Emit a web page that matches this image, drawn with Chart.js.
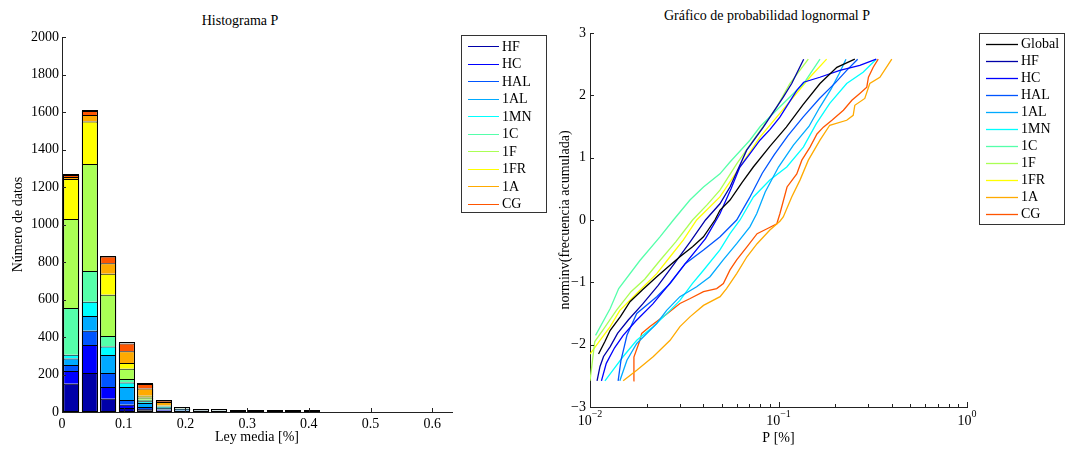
<!DOCTYPE html>
<html>
<head>
<meta charset="utf-8">
<script src="https://cdn.jsdelivr.net/npm/chart.js@4"></script>
<style>
  body { margin: 0; background: #fff; width: 1065px; height: 449px; overflow: hidden; position: relative; font-family: "Liberation Serif", serif; }
  #histo { position: absolute; left: 0; top: 0; }
  #probplot { position: absolute; left: 552px; top: 0; }
  .ttl { position: absolute; font-size: 14px; line-height: 16px; white-space: nowrap; transform: translateX(-50%); color: #000; }
</style>
</head>
<body>
<div class="ttl" style="left:240px;top:13px">Histograma P</div>
<div class="ttl" style="left:767px;top:8px">Gráfico de probabilidad lognormal P</div>
<canvas id="histo" width="552" height="449"></canvas>
<canvas id="probplot" width="513" height="449"></canvas>
<script>
// ---- histogram data (Ley media [%] bins, counts per group) ----
const groups = ['HF', 'HC', 'HAL', '1AL', '1MN', '1C', '1F', '1FR', '1A', 'CG'];
const groupColors = ['#0000a8', '#0000ff', '#0055ff', '#00aaff', '#00ffff', '#55ffaa', '#aaff55', '#ffff00', '#ffaa00', '#ff5500'];
const binCenters = [0.015, 0.045, 0.075, 0.105, 0.135, 0.165, 0.195, 0.225, 0.255, 0.285, 0.315, 0.345, 0.375, 0.405];
const cntHF  = [151, 208,  71, 21,  9,  6, 3, 2, 2, 1, 1, 1, 0, 1];
const cntHC  = [ 68, 149,  62, 18,  7,  3, 2, 1, 1, 1, 1, 0, 0, 1];
const cntHAL = [ 32,  77,  75, 25, 11,  4, 3, 2, 2, 1, 1, 1, 0, 1];
const cnt1AL = [ 35,  78,  96, 69, 21,  8, 9, 3, 2, 2, 1, 1, 0, 1];
const cnt1MN = [ 20,  76,  46, 25,  9,  6, 1, 1, 1, 1, 1, 0, 0, 0];
const cnt1C  = [249, 164,  55, 18,  9,  3, 1, 0, 0, 0, 0, 0, 0, 0];
const cnt1F  = [474, 571, 221, 55, 12,  2, 1, 1, 0, 0, 0, 0, 0, 0];
const cnt1FR = [214, 227, 112, 30,  9,  3, 0, 0, 0, 0, 0, 0, 0, 0];
const cnt1A  = [ 10,  34,  55, 63, 39, 18, 1, 1, 1, 1, 1, 1, 1, 0];
const cntCG  = [ 11,  21,  36, 42, 23,  7, 0, 0, 1, 0, 0, 0, 0, 1];
const counts = [cntHF, cntHC, cntHAL, cnt1AL, cnt1MN, cnt1C, cnt1F, cnt1FR, cnt1A, cntCG];

// ---- lognormal probability plot: [P %, norminv(frec. acumulada)] ----
const ppGlobal = [[0.0111,-2.15],[0.0120,-1.95],[0.0128,-1.77],[0.0145,-1.55],[0.0163,-1.31],[0.0190,-1.12],[0.0226,-0.91],[0.0260,-0.75],[0.0300,-0.59],[0.0350,-0.43],[0.0400,-0.27],[0.0460,0.0],[0.0490,0.16],[0.0553,0.32],[0.0640,0.60],[0.0735,0.85],[0.0900,1.18],[0.110,1.49],[0.135,1.85],[0.166,2.19],[0.204,2.45],[0.254,2.58]];
const ppHF  = [[0.0109,-2.58],[0.0113,-2.35],[0.0118,-2.19],[0.0128,-2.03],[0.0140,-1.82],[0.0160,-1.60],[0.0190,-1.35],[0.0230,-1.05],[0.0280,-0.70],[0.0340,-0.35],[0.0410,0.0],[0.0489,0.26],[0.0553,0.53],[0.0678,1.12],[0.0831,1.49],[0.106,1.97],[0.1175,2.19],[0.136,2.58]];
const ppHC  = [[0.0115,-2.58],[0.0122,-2.30],[0.0135,-2.05],[0.0150,-1.85],[0.0175,-1.62],[0.0215,-1.35],[0.0260,-1.05],[0.0320,-0.70],[0.0410,-0.30],[0.0489,0.10],[0.0560,0.50],[0.0624,0.85],[0.0700,1.05],[0.0797,1.28],[0.0900,1.45],[0.1017,1.65],[0.125,2.08],[0.136,2.21],[0.1657,2.29],[0.2116,2.40],[0.270,2.48],[0.330,2.58]];
const ppHAL = [[0.0141,-2.58],[0.0146,-2.25],[0.0152,-2.03],[0.0157,-1.85],[0.0177,-1.50],[0.0226,-1.23],[0.0266,-1.02],[0.0320,-0.70],[0.0400,-0.48],[0.0490,-0.27],[0.0600,0.0],[0.0700,0.35],[0.0820,0.75],[0.0950,1.05],[0.112,1.35],[0.135,1.65],[0.165,1.95],[0.200,2.20],[0.230,2.40],[0.263,2.58]];
const pp1AL = [[0.0144,-2.58],[0.0157,-2.25],[0.0177,-1.98],[0.0200,-1.82],[0.0226,-1.66],[0.0255,-1.45],[0.0300,-1.23],[0.0368,-1.07],[0.0433,-0.91],[0.0509,-0.64],[0.0600,-0.38],[0.0705,-0.11],[0.0766,0.10],[0.0850,0.45],[0.100,0.85],[0.120,1.20],[0.145,1.50],[0.165,1.80],[0.190,2.10],[0.210,2.35],[0.228,2.58]];
const pp1MN = [[0.0120,-2.58],[0.0133,-2.40],[0.0150,-2.19],[0.0177,-1.93],[0.0217,-1.71],[0.0266,-1.45],[0.0300,-1.29],[0.0349,-1.02],[0.0399,-0.81],[0.0489,-0.48],[0.0553,-0.22],[0.0625,0.0],[0.0736,0.37],[0.0900,0.64],[0.1106,0.85],[0.1355,1.17],[0.159,1.55],[0.187,1.87],[0.230,2.19],[0.281,2.37],[0.330,2.58]];
const pp1C  = [[0.0107,-1.85],[0.0128,-1.42],[0.0142,-1.10],[0.0184,-0.65],[0.0235,-0.27],[0.0277,0.0],[0.0339,0.32],[0.0400,0.53],[0.0489,0.74],[0.0553,0.93],[0.0705,1.28],[0.0800,1.50],[0.106,1.87],[0.136,2.19],[0.166,2.58]];
const pp1F  = [[0.0100,-2.58],[0.0106,-1.95],[0.0118,-1.75],[0.0138,-1.45],[0.0165,-1.15],[0.0195,-0.95],[0.0235,-0.65],[0.0285,-0.35],[0.0350,0.0],[0.0420,0.25],[0.0489,0.48],[0.0600,0.90],[0.0736,1.28],[0.0978,1.81],[0.1149,2.19],[0.1439,2.58]];
const pp1FR = [[0.0100,-2.15],[0.0113,-1.93],[0.0128,-1.71],[0.0144,-1.45],[0.0170,-1.23],[0.0192,-1.07],[0.0226,-0.86],[0.0266,-0.59],[0.0313,-0.32],[0.0368,0.0],[0.0489,0.37],[0.0624,0.85],[0.0797,1.33],[0.0978,1.65],[0.120,1.97],[0.1467,2.29],[0.180,2.58]];
const pp1A  = [[0.0150,-2.58],[0.0177,-2.41],[0.0217,-2.19],[0.0266,-1.93],[0.0300,-1.71],[0.0340,-1.55],[0.0400,-1.37],[0.0490,-1.23],[0.0530,-1.10],[0.0600,-0.86],[0.0680,-0.59],[0.0770,-0.38],[0.0900,-0.16],[0.1017,-0.02],[0.1060,0.05],[0.1175,0.37],[0.130,0.64],[0.144,0.96],[0.166,1.28],[0.187,1.52],[0.230,1.60],[0.249,1.68],[0.254,1.84],[0.287,1.95],[0.305,2.19],[0.345,2.29],[0.399,2.58]];
const ppCG  = [[0.0170,-2.58],[0.0171,-2.20],[0.0184,-1.93],[0.0188,-1.82],[0.0208,-1.71],[0.0245,-1.55],[0.0300,-1.34],[0.0340,-1.26],[0.0400,-1.15],[0.0470,-1.10],[0.0510,-1.02],[0.0553,-0.80],[0.0600,-0.64],[0.0680,-0.43],[0.0770,-0.22],[0.0870,-0.14],[0.0980,-0.06],[0.1017,0.10],[0.1110,0.53],[0.125,0.74],[0.133,0.96],[0.147,1.17],[0.160,1.38],[0.173,1.49],[0.192,1.60],[0.221,1.76],[0.245,1.92],[0.270,2.03],[0.294,2.13],[0.300,2.29],[0.318,2.45],[0.338,2.58]];
const ppNames  = ['Global', 'HF', 'HC', 'HAL', '1AL', '1MN', '1C', '1F', '1FR', '1A', 'CG'];
const ppSeries = [ppGlobal, ppHF, ppHC, ppHAL, pp1AL, pp1MN, pp1C, pp1F, pp1FR, pp1A, ppCG];
const ppColors = ['#000000'].concat(groupColors);

Chart.defaults.font.family = '"Liberation Serif", serif';
Chart.defaults.font.size = 14;
Chart.defaults.color = '#000';

const axisColor = '#222';

// small tick marks drawn inside the plot box, like the original
const innerTicks = {
  id: 'innerTicks',
  afterDraw(chart) {
    const ctx = chart.ctx, a = chart.chartArea;
    const xs = chart.scales.x, ys = chart.scales.y;
    ctx.save();
    ctx.strokeStyle = axisColor;
    ctx.lineWidth = 1;
    ctx.beginPath();
    ys.ticks.forEach(t => {
      const y = Math.round(ys.getPixelForValue(t.value)) + 0.5;
      ctx.moveTo(a.left, y); ctx.lineTo(a.left + 4, y);
    });
    if (xs.type === 'logarithmic') {
      for (let e = -2; e <= 0; e++) {
        for (let m = 1; m <= 9; m++) {
          const v = m * Math.pow(10, e);
          if (v > xs.max + 1e-9) break;
          const x = Math.round(xs.getPixelForValue(v)) + 0.5;
          const len = m === 1 ? 5 : 3;
          ctx.moveTo(x, a.bottom); ctx.lineTo(x, a.bottom - len);
        }
      }
    } else {
      xs.ticks.forEach(t => {
        const x = Math.round(xs.getPixelForValue(t.value)) + 0.5;
        ctx.moveTo(x, a.bottom); ctx.lineTo(x, a.bottom - 4);
      });
    }
    ctx.stroke();
    ctx.restore();
  }
};

// black outline round each whole stacked bar (thin bars then still show, as in MATLAB)
const stackOutline = {
  id: 'stackOutline',
  afterDatasetsDraw(chart) {
    const ctx = chart.ctx, ys = chart.scales.y;
    const meta = chart.getDatasetMeta(0);
    ctx.save();
    ctx.strokeStyle = '#000';
    ctx.lineWidth = 1;
    meta.data.forEach((bar, j) => {
      const total = counts.reduce((s, c) => s + c[j], 0);
      if (!total) return;
      const left = Math.round(bar.x - bar.width / 2) + 0.5;
      const right = Math.round(bar.x + bar.width / 2) - 0.5;
      const top = Math.round(ys.getPixelForValue(total)) - 0.5;
      const bottom = Math.round(ys.getPixelForValue(0)) - 0.5;
      ctx.strokeRect(left, Math.min(top, bottom - 1), right - left, Math.max(bottom - top, 1));
    });
    ctx.restore();
  }
};

// 10^n labels for the log axis
const powerLabels = {
  id: 'powerLabels',
  afterDraw(chart) {
    const xs = chart.scales.x;
    if (xs.type !== 'logarithmic') return;
    const ctx = chart.ctx;
    ctx.save();
    ctx.fillStyle = '#000';
    ctx.textBaseline = 'alphabetic';
    for (let e = -2; e <= 0; e++) {
      const x = xs.getPixelForValue(Math.pow(10, e));
      const sup = e < 0 ? '\u2212' + (-e) : String(e);
      ctx.font = '14px "Liberation Serif", serif';
      const wb = ctx.measureText('10').width;
      ctx.font = '10px "Liberation Serif", serif';
      const ws = ctx.measureText(sup).width;
      const x0 = x - (wb + ws) / 2;
      ctx.font = '14px "Liberation Serif", serif';
      ctx.fillText('10', x0, 425);
      ctx.font = '10px "Liberation Serif", serif';
      ctx.fillText(sup, x0 + wb, 417);
    }
    ctx.restore();
  }
};

// boxed legend at the right of each axes
const boxLegend = {
  id: 'boxLegend',
  afterDraw(chart, args, o) {
    const ctx = chart.ctx;
    ctx.save();
    ctx.fillStyle = '#fff';
    ctx.fillRect(o.x, o.y, o.w, o.h);
    ctx.strokeStyle = '#333';
    ctx.lineWidth = 1;
    ctx.strokeRect(o.x, o.y, o.w, o.h);
    ctx.font = '14px "Liberation Serif", serif';
    ctx.textBaseline = 'middle';
    chart.data.datasets.forEach((ds, i) => {
      const y = o.first + i * o.rowH;
      ctx.strokeStyle = ds.legendColor;
      ctx.lineWidth = o.lw;
      ctx.beginPath();
      ctx.moveTo(o.lx0, Math.round(y) + 0.5);
      ctx.lineTo(o.lx1, Math.round(y) + 0.5);
      ctx.stroke();
      ctx.fillStyle = '#000';
      ctx.fillText(ds.label, o.tx, y + 1);
    });
    ctx.restore();
  }
};

new Chart(document.getElementById('histo'), {
  type: 'bar',
  data: {
    datasets: groups.map((g, i) => ({
      label: g,
      data: binCenters.map((x, j) => ({ x: x, y: counts[i][j] })),
      backgroundColor: groupColors[i],
      legendColor: groupColors[i],
      borderColor: '#000',
      borderWidth: 1,
      barPercentage: 0.865,
      categoryPercentage: 1
    }))
  },
  options: {
    responsive: false,
    animation: false,
    devicePixelRatio: 1,
    layout: { padding: { left: 0, right: 100, top: 37, bottom: 0 } },
    plugins: {
      legend: { display: false },
      tooltip: { enabled: false },
      boxLegend: { x: 461.5, y: 35.5, w: 85, h: 177, first: 46, rowH: 17.5, lx0: 468, lx1: 499, tx: 502, lw: 1 }
    },
    scales: {
      x: {
        type: 'linear', stacked: true, offset: false, min: 0, max: 0.632,
        grid: { display: false, drawTicks: false },
        border: { display: true, color: axisColor, width: 1 },
        ticks: { stepSize: 0.1, includeBounds: false, padding: 4, color: '#000', callback: v => String(Math.round(v * 10) / 10) },
        title: { display: true, text: 'Ley media [%]', padding: { top: 0, bottom: 3 } },
        afterFit: s => { s.height = 37; }
      },
      y: {
        stacked: true, min: 0, max: 2000,
        grid: { display: false, drawTicks: false },
        border: { display: true, color: axisColor, width: 1 },
        ticks: { stepSize: 200, padding: 3, color: '#000', callback: v => String(v) },
        title: { display: true, text: 'Número de datos', padding: { top: 10, bottom: 0 } },
        afterFit: s => { s.width = 62; }
      }
    }
  },
  plugins: [stackOutline, innerTicks, boxLegend]
});

new Chart(document.getElementById('probplot'), {
  type: 'scatter',
  data: {
    datasets: ppNames.map((n, i) => ({
      label: n,
      data: ppSeries[i].map(p => ({ x: p[0], y: p[1] })),
      showLine: true,
      borderColor: ppColors[i],
      legendColor: ppColors[i],
      borderWidth: 1.3,
      pointRadius: 0,
      tension: 0,
      fill: false
    }))
  },
  options: {
    responsive: false,
    animation: false,
    devicePixelRatio: 1,
    layout: { padding: { left: 0, right: 98, top: 33, bottom: 0 } },
    plugins: {
      legend: { display: false },
      tooltip: { enabled: false },
      boxLegend: { x: 427.5, y: 33.5, w: 85, h: 191, first: 43.5, rowH: 17, lx0: 434, lx1: 466, tx: 469, lw: 1.3 }
    },
    scales: {
      x: {
        type: 'logarithmic', min: 0.01, max: 1,
        grid: { display: false, drawTicks: false },
        border: { display: true, color: axisColor, width: 1 },
        ticks: { display: false },
        title: { display: true, text: 'P [%]', padding: { top: 0, bottom: 2 } },
        afterFit: s => { s.height = 42; }
      },
      y: {
        min: -3, max: 3,
        grid: { display: false, drawTicks: false },
        border: { display: true, color: axisColor, width: 1 },
        ticks: { stepSize: 1, padding: 4, color: '#000', callback: v => (v < 0 ? '\u2212' + Math.abs(v) : String(v)) },
        title: { display: true, text: 'norminv(frecuencia acumulada)', padding: { top: 5, bottom: 0 } },
        afterFit: s => { s.width = 38; }
      }
    }
  },
  plugins: [innerTicks, powerLabels, boxLegend]
});
</script>
</body>
</html>
